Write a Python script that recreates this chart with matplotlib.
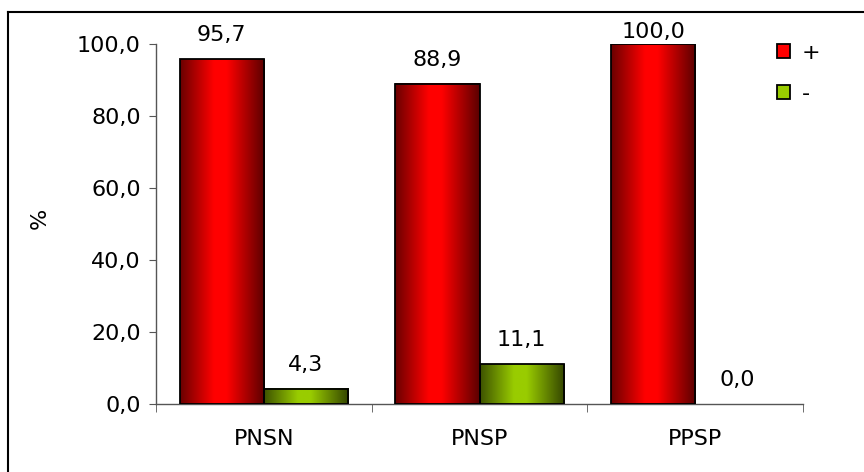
import numpy as np
import matplotlib
matplotlib.use("Agg")
import matplotlib.pyplot as plt
from matplotlib.patches import Patch
from matplotlib.lines import Line2D
from matplotlib.colors import LinearSegmentedColormap

categories = ["PNSN", "PNSP", "PPSP"]
plus_values = [95.7, 88.9, 100.0]
minus_values = [4.3, 11.1, 0.0]
series_names = ["+", "-"]
yticks = [0, 20, 40, 60, 80, 100]

W, H = 864, 472
fig = plt.figure(figsize=(W/100, H/100), dpi=100)
ax = fig.add_axes([156/W, 1-404/H, (803-156)/W, (404-44)/H])

x = np.arange(len(categories))
w = 0.39
red_cmap = LinearSegmentedColormap.from_list("r", [(0, "#6a0000"), (0.4, "#ff0000"), (0.55, "#ff0000"), (1, "#5a0000")])
green_cmap = LinearSegmentedColormap.from_list("g", [(0, "#3d5200"), (0.4, "#99cc00"), (0.55, "#99cc00"), (1, "#334400")])

b1 = ax.bar(x - w/2, plus_values, w, color="#ff0000", linewidth=0, zorder=2)
b2 = ax.bar(x + w/2, minus_values, w, color="#99cc00", linewidth=0, zorder=2)

ax.set_xlim(-0.5, 2.5)
ax.set_ylim(0, 100)

grad = np.linspace(0, 1, 256).reshape(1, -1)
for bars, cmap in ((b1, red_cmap), (b2, green_cmap)):
    for r in bars:
        h = r.get_height()
        if h <= 0:
            continue
        ax.imshow(grad, cmap=cmap, aspect="auto",
                  extent=(r.get_x(), r.get_x() + r.get_width(), 0, h),
                  zorder=2.5, interpolation="bilinear")
        edge = plt.Rectangle((r.get_x(), 0), r.get_width(), h, fill=False,
                             edgecolor="black", linewidth=1.3, zorder=3)
        ax.add_patch(edge)
ax.set_xlim(-0.5, 2.5)
ax.set_ylim(0, 100)

# data labels (kept inside chart area like the original)
for bars, vals in ((b1, plus_values), (b2, minus_values)):
    for r, v in zip(bars, vals):
        cx = r.get_x() + r.get_width()/2
        _, top_px = ax.transData.transform((cx, v))
        top_from_top = H - top_px
        bottom_from_top = max(top_from_top - 14, 42)
        off_pt = (top_from_top - bottom_from_top) * 72 / 100
        ax.annotate(f"{v:.1f}".replace(".", ","), (cx, v),
                    xytext=(0, off_pt), textcoords="offset points", ha="center", va="bottom",
                    fontsize=16, color="black", annotation_clip=False)

ax.set_yticks(yticks)
ax.set_yticklabels([f"{t:.1f}".replace(".", ",") for t in yticks], fontsize=16)
ax.set_xticks(x)
ax.set_xticklabels(categories, fontsize=16)
ax.set_xticks([-0.5, 0.5, 1.5, 2.5], minor=True)
ax.tick_params(axis="x", which="major", length=0, pad=18)
ax.tick_params(axis="x", which="minor", length=6, direction="out", color="#555555")
ax.tick_params(axis="y", length=5, direction="out", color="#555555", pad=6)
for s in ("top", "right"):
    ax.spines[s].set_visible(False)
for s in ("left", "bottom"):
    ax.spines[s].set_color("#555555")
    ax.spines[s].set_linewidth(1.0)

ax.set_ylabel("%", fontsize=16)
ax.yaxis.set_label_coords(-0.164, 0.517)

handles = [Patch(facecolor="#ff0000", edgecolor="black", linewidth=1.3),
           Patch(facecolor="#99cc00", edgecolor="black", linewidth=1.3)]
fig.legend(handles, series_names, loc="upper left", bbox_to_anchor=(777/W, 1-43/H),
           frameon=False, fontsize=16, handlelength=0.6, handleheight=0.6,
           handletextpad=0.5, labelspacing=0.95, borderpad=0, borderaxespad=0)

fig.add_artist(Line2D([7.5/W, 1], [1-11.5/H, 1-11.5/H], color="black", linewidth=1.5))
fig.add_artist(Line2D([7.5/W, 7.5/W], [0, 1-11.5/H], color="black", linewidth=1.5))

fig.savefig("out.png", dpi=100)
